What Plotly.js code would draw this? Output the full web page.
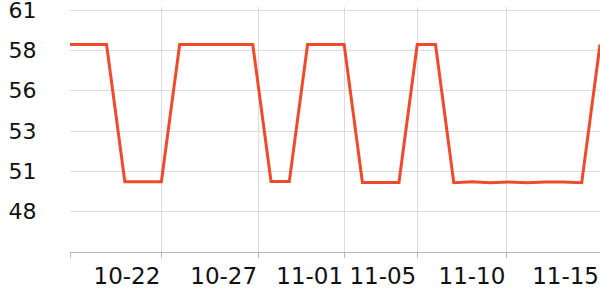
<!DOCTYPE html>
<html>
<head>
<meta charset="utf-8">
<script src="https://cdn.plot.ly/plotly-3.0.1.min.js"></script>
<style>html,body{margin:0;padding:0;background:#fff}#chart{width:600px;height:300px}</style>
</head>
<body>
<div id="chart"></div>
<script>
const dates = [
  '2023-10-17','2023-10-18','2023-10-19','2023-10-20','2023-10-21','2023-10-22',
  '2023-10-23','2023-10-24','2023-10-25','2023-10-26','2023-10-27','2023-10-28',
  '2023-10-29','2023-10-30','2023-10-31','2023-11-01','2023-11-02','2023-11-03',
  '2023-11-04','2023-11-05','2023-11-06','2023-11-07','2023-11-08','2023-11-09',
  '2023-11-10','2023-11-11','2023-11-12','2023-11-13','2023-11-14','2023-11-15'
];
const values = [
  58.62, 58.62, 58.62, 49.90, 49.90, 49.90,
  58.62, 58.62, 58.62, 58.62, 58.62, 49.92,
  49.92, 58.62, 58.62, 58.62, 49.85, 49.85,
  49.85, 58.62, 58.62, 49.84, 49.90, 49.84,
  49.89, 49.84, 49.89, 49.88, 49.84, 58.62
];
const xTickVals = ['2023-10-17','2023-10-22','2023-10-27 07:00','2023-11-01','2023-11-05','2023-11-09 21:00','2023-11-15'];
const xTickText = ['', '10-22', '10-27', '11-01', '11-05', '11-10', '11-15'];
const yTickVals = [45.44, 48.00, 50.56, 53.12, 55.68, 58.24, 60.80];
const yTickText = ['', '48', '51', '53', '56', '58', '61'];

const trace = {
  x: dates, y: values, type: 'scatter', mode: 'lines',
  line: {color: '#ee4a2c', width: 3},
  hoverinfo: 'skip', cliponaxis: false
};
const layout = {
  width: 600, height: 300,
  margin: {l: 70, r: 0, t: 7, b: 48},
  paper_bgcolor: '#fff', plot_bgcolor: '#fff',
  showlegend: false,
  font: {family: 'DejaVu Sans', size: 22, color: '#111'},
  xaxis: {
    type: 'date',
    range: ['2023-10-17', '2023-11-15'],
    tickmode: 'array', tickvals: xTickVals, ticktext: xTickText,
    ticklabelposition: 'outside left',
    ticklabeloverflow: 'allow',
    tickangle: 0,
    tickfont: {family: 'DejaVu Sans', size: 23, color: '#111'},
    ticklabelstandoff: 3,
    showgrid: true, gridcolor: '#dcdcdc', gridwidth: 1,
    showline: true, linecolor: '#b8b8b8', linewidth: 1,
    ticks: 'outside', ticklen: 5, tickcolor: '#b8b8b8',
    zeroline: false, fixedrange: true, automargin: false
  },
  yaxis: {
    range: [45.44, 61.0],
    tickmode: 'array', tickvals: yTickVals, ticktext: yTickText,
    ticklabeloverflow: 'allow',
    showgrid: true, gridcolor: '#dcdcdc', gridwidth: 1,
    showline: false, zeroline: false,
    ticks: 'outside', ticklen: 28, tickcolor: 'rgba(0,0,0,0)',
    automargin: false,
    fixedrange: true
  }
};
Plotly.newPlot('chart', [trace], layout, {displayModeBar: false, staticPlot: true});
</script>
</body>
</html>
